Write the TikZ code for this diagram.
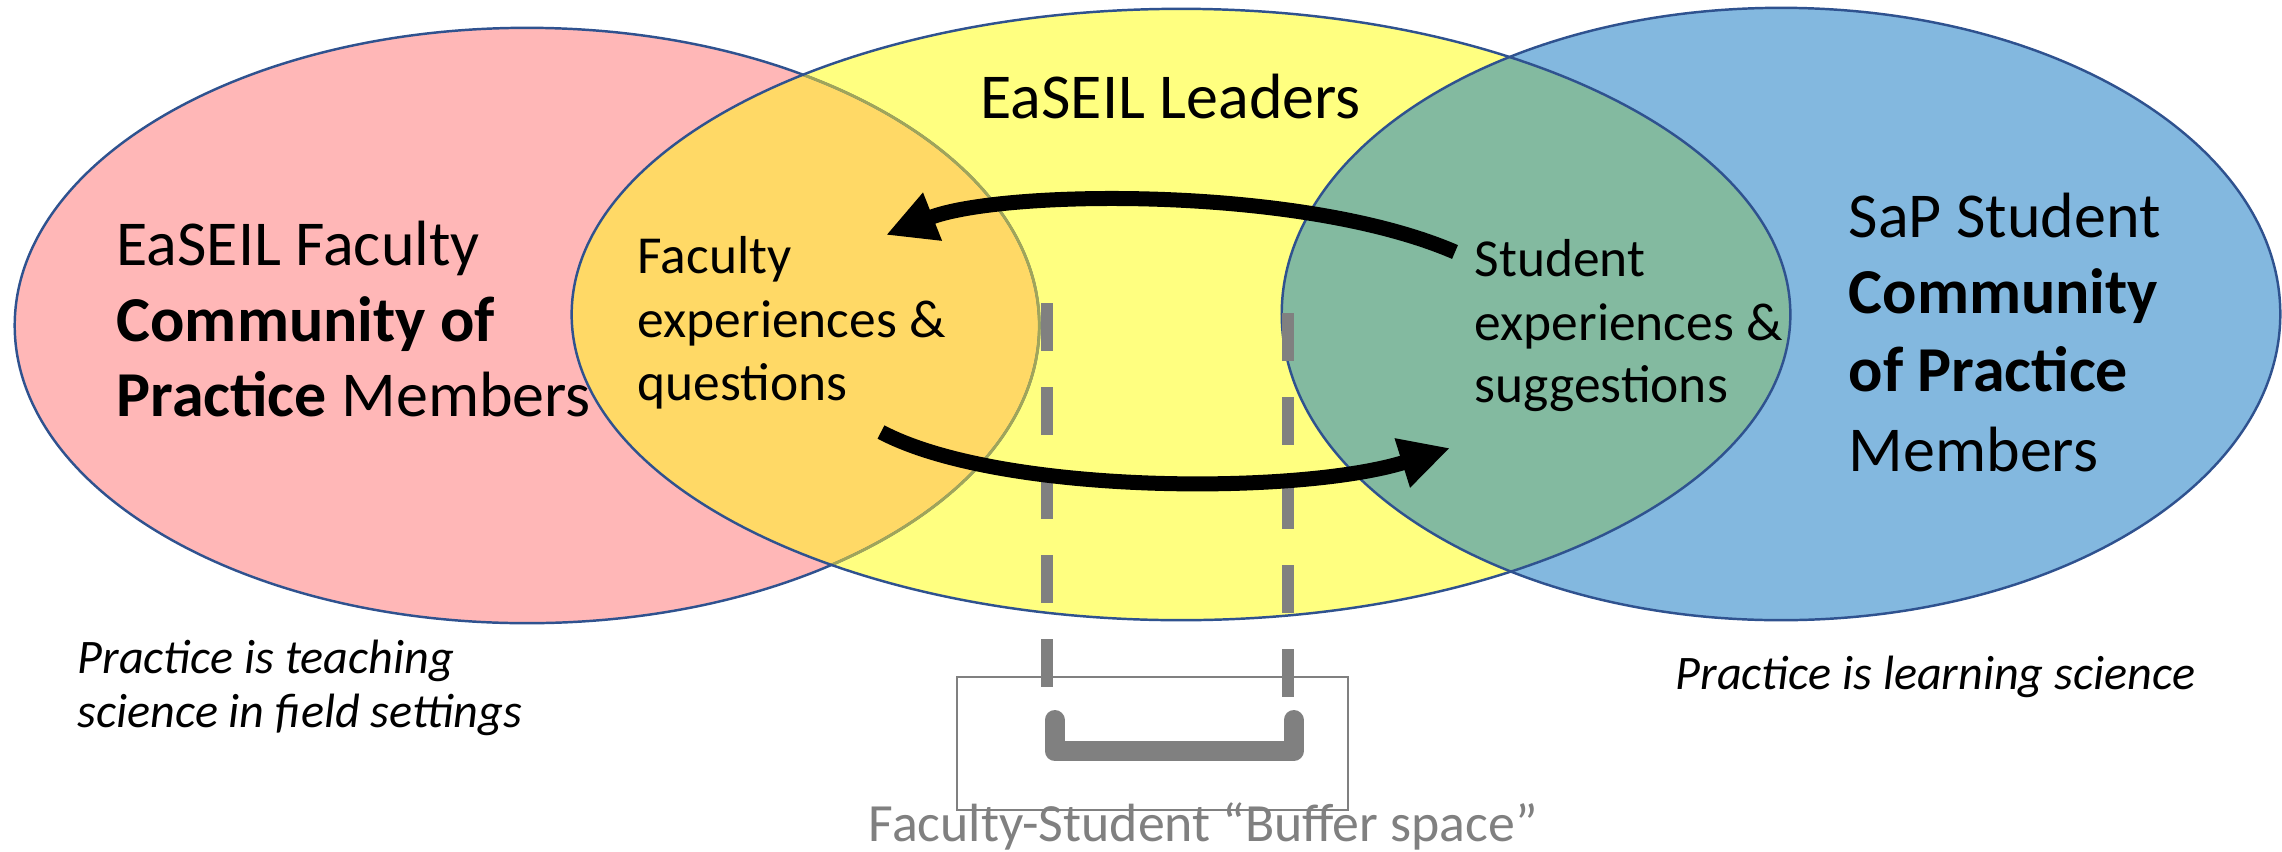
\documentclass[tikz,border=0pt]{standalone}
\usepackage{fontspec}
\setmainfont{Carlito}
\usetikzlibrary{arrows.meta}
\definecolor{pinkF}{RGB}{255,183,183}
\definecolor{yellowF}{RGB}{255,255,128}
\definecolor{blueF}{RGB}{131,184,223}
\definecolor{orangeF}{RGB}{255,217,102}
\definecolor{greenF}{RGB}{131,186,160}
\definecolor{edgeC}{RGB}{47,82,143}
\definecolor{oliveC}{RGB}{160,165,90}
\definecolor{grayC}{RGB}{128,128,128}
\begin{document}
\begin{tikzpicture}[x=0.01cm,y=-0.01cm,
  bigtxt/.style={anchor=base west,inner sep=0pt,font=\fontsize{18.2}{22}\selectfont},
  midtxt/.style={anchor=base west,inner sep=0pt,font=\fontsize{15.2}{18}\selectfont},
  ittxt/.style={anchor=base west,inner sep=0pt,font=\fontsize{13.7}{16}\selectfont\itshape},
  outline/.style={draw=edgeC,line width=0.7pt},
  flow/.style={line width=0.15cm,-{Triangle[length=0.5cm,width=0.48cm]}},
  divider/.style={draw=grayC,line width=0.12cm,dash pattern=on 0.48cm off 0.36cm},
]
\useasboundingbox (0,0) rectangle (2282,851);
% fills
\fill[pinkF] (527,325.5) ellipse [x radius=5.12cm,y radius=2.975cm];
\fill[yellowF] (1181,314.5) ellipse [x radius=6.09cm,y radius=3.055cm];
\fill[blueF] (1781,314) ellipse [x radius=4.99cm,y radius=3.06cm];
\begin{scope}
  \clip (527,325.5) ellipse [x radius=5.12cm,y radius=2.975cm];
  \fill[orangeF] (1181,314.5) ellipse [x radius=6.09cm,y radius=3.055cm];
\end{scope}
\begin{scope}
  \clip (1781,314) ellipse [x radius=4.99cm,y radius=3.06cm];
  \fill[greenF] (1181,314.5) ellipse [x radius=6.09cm,y radius=3.055cm];
\end{scope}
% outlines
\draw[outline] (527,325.5) ellipse [x radius=5.12cm,y radius=2.975cm];
\begin{scope}
  \clip (1181,314.5) ellipse [x radius=6.09cm,y radius=3.055cm];
  \draw[oliveC,line width=0.8pt] (527,325.5) ellipse [x radius=5.12cm,y radius=2.975cm];
\end{scope}
\draw[outline] (1181,314.5) ellipse [x radius=6.09cm,y radius=3.055cm];
\draw[outline] (1781,314) ellipse [x radius=4.99cm,y radius=3.06cm];

% texts
\node[bigtxt] (leaders) at (980,118) {EaSEIL Leaders};

\node[bigtxt] (fac1) at (116,265) {EaSEIL Faculty};
\node[bigtxt] (fac2) at (116,341) {\textbf{Community of}};
\node[bigtxt] (fac3) at (116,416) {\textbf{Practice} Members};

\node[midtxt] (fe1) at (637,273) {Faculty};
\node[midtxt] (fe2) at (637,337) {experiences \&};
\node[midtxt] (fe3) at (637,400) {questions};

\node[midtxt] (se1) at (1474,276) {Student};
\node[midtxt] (se2) at (1474,340) {experiences \&};
\node[midtxt] (se3) at (1474,402) {suggestions};

\node[bigtxt] (sap1) at (1848,237) {SaP Student};
\node[bigtxt] (sap2) at (1848,313) {\textbf{Community}};
\node[bigtxt] (sap3) at (1848,391) {\textbf{of Practice}};
\node[bigtxt] (sap4) at (1848,471) {Members};

\node[ittxt] (pt1) at (77,673) {Practice is teaching};
\node[ittxt] (pt2) at (77,727) {science in field settings};
\node[ittxt] (pl) at (1675,689) {Practice is learning science};

% buffer box
\node[draw=grayC,line width=0.6pt,minimum width=3.91cm,minimum height=1.33cm,inner sep=0pt] (bufbox) at (1152.5,743.5) {};
\draw[grayC,line width=0.2cm,line cap=round,line join=round] (1054.6,720) -- (1054.6,751) -- (1293.6,751) -- (1293.6,720);
\node[anchor=base west,inner sep=0pt,text=grayC,font=\fontsize{15.3}{18}\selectfont] (buflabel) at (868,841) {Faculty-Student “Buffer space”};

% dividers
\coordinate (dlA) at (1047,303);
\coordinate (dlB) at (1047,687);
\coordinate (drA) at (1288,313);
\coordinate (drB) at (1288,697);
\draw[divider] (dlA) -- (dlB);
\draw[divider] (drA) -- (drB);

% arrows
\coordinate (tS) at (1455,252);
\coordinate (tE) at (886,235);
\coordinate (bS) at (881,432);
\coordinate (bE) at (1450,448);
\draw[flow] (tS) .. controls (1300,185) and (1000,190) .. (tE);
\draw[flow] (bS) .. controls (1000,495) and (1300,495) .. (bE);
\end{tikzpicture}
\end{document}
